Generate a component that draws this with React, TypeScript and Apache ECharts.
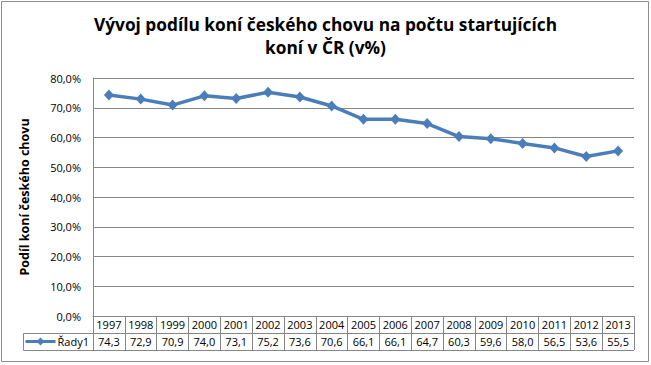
import React, { useEffect, useRef } from "react";
import * as echarts from "echarts";

const titleLines = ["Vývoj podílu koní českého chovu na počtu startujících", "koní v ČR (v%)"];
const yAxisTitle = "Podíl koní českého chovu";
const seriesName = "Řady1";
const years = ["1997", "1998", "1999", "2000", "2001", "2002", "2003", "2004", "2005", "2006", "2007", "2008", "2009", "2010", "2011", "2012", "2013"];
const shares = [74.3, 72.9, 70.9, 74.0, 73.1, 75.2, 73.6, 70.6, 66.1, 66.1, 64.7, 60.3, 59.6, 58.0, 56.5, 53.6, 55.5];

const FONT = "'Open Sans', 'Noto Sans', sans-serif";
const GRID_L = 93, GRID_R = 634, GRID_T = 78, GRID_B = 316;
const ROW_H = 17;
const LINE_COLOR = "#4A7EBB";
const GRID_COLOR = "#868686";

const fmtNum = (v: number) => v.toFixed(1).replace(".", ",");

export default function App() {
  const ref = useRef<HTMLDivElement>(null);
  useEffect(() => {
    if (!ref.current) return;
    const chart = echarts.init(ref.current, null, { renderer: "svg" });
    const valueLookup: Record<string, string> = {};
    years.forEach((y, i) => (valueLookup[y] = fmtNum(shares[i])));
    chart.setOption({
      animation: false,
      backgroundColor: "#ffffff",
      title: {
        text: titleLines.join("\n"),
        left: "center",
        top: 8,
        textStyle: { fontFamily: FONT, fontWeight: "bold", fontSize: 17.3, lineHeight: 23, color: "#000" },
      },
      grid: { left: GRID_L, right: 651 - GRID_R, top: GRID_T, bottom: 365 - GRID_B, containLabel: false },
      legend: {
        left: 24,
        top: GRID_B + ROW_H + 3,
        itemWidth: 30,
        itemHeight: 10,
        itemGap: 2,
        padding: 0,
        data: [seriesName],
        lineStyle: { width: 3 },
        textStyle: { fontFamily: FONT, fontSize: 11, color: "#000", padding: [0, 0, 0, -3] },
      },
      xAxis: {
        type: "category",
        data: years,
        boundaryGap: true,
        axisLine: { show: true, lineStyle: { color: GRID_COLOR, width: 1 } },
        axisTick: { show: true, interval: 0, length: ROW_H * 2, lineStyle: { color: GRID_COLOR } },
        axisLabel: {
          interval: 0,
          margin: 0,
          formatter: (v: string) => `{y|${v}}\n{v|${valueLookup[v]}}`,
          rich: {
            y: { fontFamily: FONT, fontSize: 11, color: "#000", lineHeight: ROW_H, height: ROW_H },
            v: { fontFamily: FONT, fontSize: 11, color: "#000", lineHeight: ROW_H, height: ROW_H },
          },
        },
      },
      yAxis: {
        type: "value",
        min: 0,
        max: 80,
        interval: 10,
        name: yAxisTitle,
        nameLocation: "middle",
        nameGap: 62,
        nameRotate: 90,
        nameTextStyle: { fontFamily: FONT, fontWeight: "bold", fontSize: 12.5, color: "#000" },
        axisLine: { show: true, lineStyle: { color: GRID_COLOR, width: 1 } },
        axisTick: { show: false },
        axisLabel: {
          margin: 12,
          fontFamily: FONT,
          fontSize: 11,
          color: "#000",
          formatter: (v: number) => `${fmtNum(v)}%`,
        },
        splitLine: { show: true, lineStyle: { color: GRID_COLOR, width: 1 } },
      },
      series: [
        {
          name: seriesName,
          type: "line",
          data: shares,
          symbol: "diamond",
          symbolSize: [10, 11],
          itemStyle: { color: LINE_COLOR },
          lineStyle: { color: LINE_COLOR, width: 3.5 },
        },
      ],
      graphic: [
        {
          type: "rect",
          shape: { x: 1.5, y: 1.5, width: 647, height: 360 },
          style: { fill: "none", stroke: "#8c8c8c", lineWidth: 1 },
          silent: true,
        },
        {
          type: "line",
          shape: { x1: 23.5, y1: GRID_B + ROW_H + 0.5, x2: GRID_R, y2: GRID_B + ROW_H + 0.5 },
          style: { stroke: GRID_COLOR, lineWidth: 1 },
          silent: true,
        },
        {
          type: "line",
          shape: { x1: 23.5, y1: GRID_B + 2 * ROW_H + 0.5, x2: GRID_R, y2: GRID_B + 2 * ROW_H + 0.5 },
          style: { stroke: GRID_COLOR, lineWidth: 1 },
          silent: true,
        },
        {
          type: "line",
          shape: { x1: 23.5, y1: GRID_B + ROW_H + 0.5, x2: 23.5, y2: GRID_B + 2 * ROW_H + 0.5 },
          style: { stroke: GRID_COLOR, lineWidth: 1 },
          silent: true,
        },
      ],
    });
    return () => chart.dispose();
  }, []);
  return (
    <div
      ref={ref}
      style={{ position: "fixed", left: 0, top: 0, width: 651, height: 365, background: "#fff" }}
    />
  );
}
